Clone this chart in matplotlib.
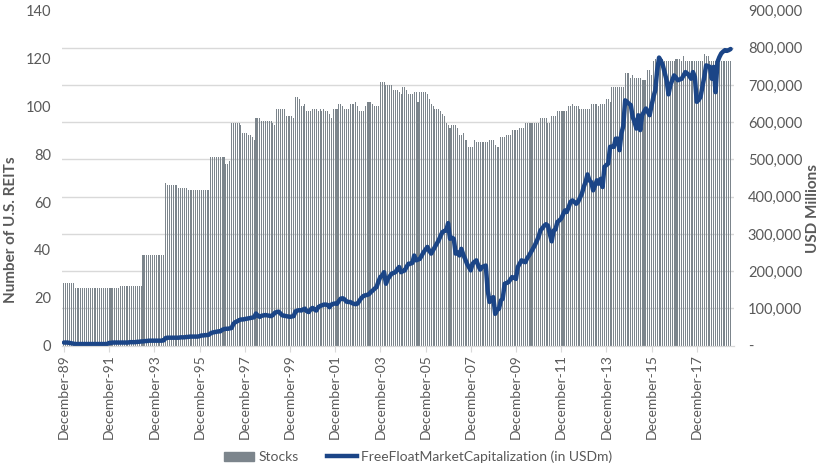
import numpy as np
import pandas as pd
import matplotlib
matplotlib.use('Agg')
import matplotlib.pyplot as plt
from matplotlib.patches import Patch
from matplotlib.lines import Line2D
from matplotlib.ticker import FuncFormatter

# monthly data, December 1989 .. June 2019
months = pd.date_range('1989-12-31', periods=355, freq='ME')

# number of U.S. REITs (one row per calendar year, first row = Dec-89)
stocks = (
    [26]
    + [26, 26, 26, 26, 26, 24, 24, 24, 24, 24, 24, 24]            # 1990
    + [24, 24, 24, 24, 24, 24, 24, 24, 24, 24, 24, 24]            # 1991
    + [24, 24, 24, 24, 24, 25, 25, 25, 25, 25, 25, 25]            # 1992
    + [25, 25, 25, 25, 25, 38, 38, 38, 38, 38, 38, 38]            # 1993
    + [38, 38, 38, 38, 38, 68, 67, 67, 67, 67, 67, 67]            # 1994
    + [66, 66, 66, 66, 66, 65, 65, 65, 65, 65, 65, 65]            # 1995
    + [65, 65, 65, 65, 65, 79, 79, 79, 79, 79, 79, 79]            # 1996
    + [79, 76, 76, 77, 93, 93, 93, 93, 93, 92, 89, 89]            # 1997
    + [89, 88, 88, 87, 86, 95, 95, 95, 94, 94, 94, 94]            # 1998
    + [94, 94, 93, 92, 99, 99, 99, 99, 99, 96, 96, 96]            # 1999
    + [96, 95, 104, 104, 103, 100, 100, 101, 98, 98, 98, 99]      # 2000
    + [99, 99, 98, 99, 98, 99, 98, 98, 97, 95, 99, 99]            # 2001
    + [99, 101, 101, 100, 99, 99, 99, 101, 101, 101, 102, 100]    # 2002
    + [98, 98, 98, 100, 102, 102, 102, 101, 100, 100, 100, 110]   # 2003
    + [110, 110, 109, 109, 109, 109, 107, 107, 107, 106, 105, 108]  # 2004
    + [108, 107, 105, 105, 105, 106, 106, 102, 106, 106, 106, 106]  # 2005
    + [105, 103, 101, 100, 99, 99, 99, 98, 97, 96, 93, 92]        # 2006
    + [91, 92, 92, 92, 91, 88, 88, 89, 86, 86, 83, 83]            # 2007
    + [83, 86, 85, 85, 85, 85, 85, 85, 85, 86, 86, 86]            # 2008
    + [84, 83, 83, 87, 87, 87, 88, 88, 88, 90, 90, 90]            # 2009
    + [90, 91, 91, 91, 93, 93, 93, 93, 93, 93, 93, 93]            # 2010
    + [95, 95, 95, 95, 93, 93, 96, 96, 96, 98, 98, 98]            # 2011
    + [98, 98, 98, 100, 100, 101, 100, 100, 100, 99, 99, 99]      # 2012
    + [99, 99, 99, 101, 101, 101, 101, 100, 101, 101, 101, 103]   # 2013
    + [103, 102, 108, 108, 108, 108, 108, 108, 108, 114, 114, 114]  # 2014
    + [112, 113, 112, 112, 112, 112, 111, 111, 111, 115, 115, 113]  # 2015
    + [119, 120, 120, 120, 120, 120, 119, 119, 119, 119, 119, 119]  # 2016
    + [120, 120, 120, 119, 121, 119, 119, 119, 119, 119, 119, 119]  # 2017
    + [119, 119, 119, 122, 121, 121, 119, 119, 119, 119, 119, 120]  # 2018
    + [119, 119, 119, 119, 119, 119]                                # 2019
)

# free float market cap, USD thousands of millions (x1000 below)
mcap_k = (
    [8]
    + [8, 8, 7, 6, 5, 4, 4, 4, 4, 4, 4, 4]
    + [4, 4, 4, 4, 4, 4, 4, 4, 4, 4, 4, 7]
    + [7, 8, 8, 8, 8, 8, 8, 8, 8, 8, 9, 9]
    + [9, 9, 10, 10, 11, 11, 12, 12, 13, 13, 13, 13]
    + [13, 13, 13, 13, 14, 20, 21, 21, 21, 21, 21, 21]
    + [21, 22, 22, 22, 23, 23, 24, 24, 24, 24, 24, 25]
    + [27, 27, 28, 28, 29, 33, 35, 36, 37, 38, 38, 42]
    + [44, 45, 45, 46, 47, 58, 63, 65, 68, 70, 70, 71]
    + [72, 73, 74, 75, 76, 86, 80, 77, 80, 81, 82, 81]
    + [80, 79, 82, 88, 90, 91, 86, 81, 80, 79, 78, 77]
    + [78, 79, 92, 94, 95, 94, 97, 99, 92, 90, 97, 101]
    + [97, 94, 103, 106, 108, 110, 110, 109, 103, 110, 112, 113]
    + [112, 120, 126, 127, 124, 118, 117, 117, 114, 112, 111, 113]
    + [121, 128, 133, 135, 136, 138, 144, 148, 153, 157, 172, 184]
    + [188, 197, 166, 179, 186, 193, 195, 197, 205, 211, 197, 200]
    + [202, 212, 220, 220, 222, 242, 229, 231, 233, 242, 251, 258]
    + [265, 255, 247, 256, 265, 274, 283, 295, 305, 308, 309, 329]
    + [287, 290, 287, 247, 250, 242, 260, 245, 233, 220, 211, 202]
    + [220, 225, 229, 215, 204, 211, 213, 215, 148, 117, 125, 130]
    + [85, 95, 99, 121, 126, 166, 168, 170, 177, 184, 182, 179]
    + [211, 220, 229, 226, 224, 235, 242, 251, 260, 269, 280, 292]
    + [309, 315, 322, 326, 322, 300, 280, 309, 312, 332, 336, 341]
    + [352, 363, 359, 372, 386, 390, 386, 381, 386, 397, 408, 426]
    + [440, 460, 444, 439, 417, 430, 444, 435, 448, 426, 480, 485]
    + [489, 534, 535, 534, 556, 556, 525, 570, 590, 659, 655, 650]
    + [646, 614, 600, 583, 619, 579, 619, 628, 637, 628, 619, 645]
    + [668, 686, 740, 774, 765, 753, 733, 713, 675, 700, 713, 726]
    + [720, 713, 715, 717, 726, 735, 731, 725, 717, 735, 722, 655]
    + [660, 668, 695, 722, 753, 751, 749, 717, 749, 681, 762, 775]
    + [785, 790, 794, 792, 794, 797]
)
mcap = np.array(mcap_k) * 1000

bar_color = '#7c858c'
line_color = '#1b4587'
text_color = '#595959'
grid_color = '#d9d9d9'

plt.rcParams['font.family'] = ['Lato', 'DejaVu Sans']

fig = plt.figure(figsize=(8.28, 4.75), dpi=100)
ax1 = fig.add_axes([0.0749, 0.2726, 0.8116, 0.7049])
ax2 = ax1.twinx()

x = np.arange(len(stocks))
ax1.bar(x, stocks, width=0.55, color=bar_color, zorder=2)
ax2.plot(x, mcap, color=line_color, lw=3.2, solid_capstyle='round',
         solid_joinstyle='round')

ax1.set_xlim(-1, len(stocks) + 0.8)
ax1.set_ylim(0, 140)
ax2.set_ylim(0, 900000)

# left axis ticks; gridlines follow the right axis
ax1.set_yticks(np.arange(0, 141, 20))
ax1.set_yticks(np.linspace(0, 140, 10), minor=True)
ax1.grid(which='minor', axis='y', color=grid_color, lw=1, zorder=0)
ax1.set_axisbelow(True)
ax2.set_yticks(np.arange(0, 900001, 100000))
ax2.yaxis.set_major_formatter(
    FuncFormatter(lambda v, p: '-' if v == 0 else '{:,.0f}'.format(v)))

tick_pos = x[::24]
ax1.set_xticks(tick_pos)
ax1.set_xticklabels([months[i].strftime('%B-%y') for i in tick_pos],
                    rotation=90)

for ax in (ax1, ax2):
    for s in ('left', 'right', 'top'):
        ax.spines[s].set_visible(False)
    ax.spines['bottom'].set_color(grid_color)
ax1.tick_params(axis='x', colors=text_color, labelsize=10, length=4,
                color=grid_color, pad=2)
ax1.tick_params(axis='y', colors=text_color, labelsize=10.5, length=0,
                pad=8)
ax1.tick_params(axis='y', which='minor', length=0)
ax2.tick_params(axis='y', colors=text_color, labelsize=10.5, length=0,
                pad=10)

# axis titles, placed where the reference has them
fig.text(0.0135, 0.516, 'Number of U.S. REITs', rotation=90, ha='center',
         va='center', color=text_color, fontsize=11, fontweight='bold')
fig.text(0.982, 0.562, 'USD Millions', rotation=90, ha='center',
         va='center', color=text_color, fontsize=11, fontweight='bold')

handles = [Patch(color=bar_color),
           Line2D([], [], color=line_color, lw=3.2)]
fig.legend(handles, ['Stocks', 'FreeFloatMarketCapitalization (in USDm)'],
           loc='center', bbox_to_anchor=(0.505, 0.038), ncol=2,
           frameon=False, fontsize=10, labelcolor=text_color,
           handlelength=2.2, handletextpad=0.3, columnspacing=2.0)

fig.savefig('out.png', dpi=100)
